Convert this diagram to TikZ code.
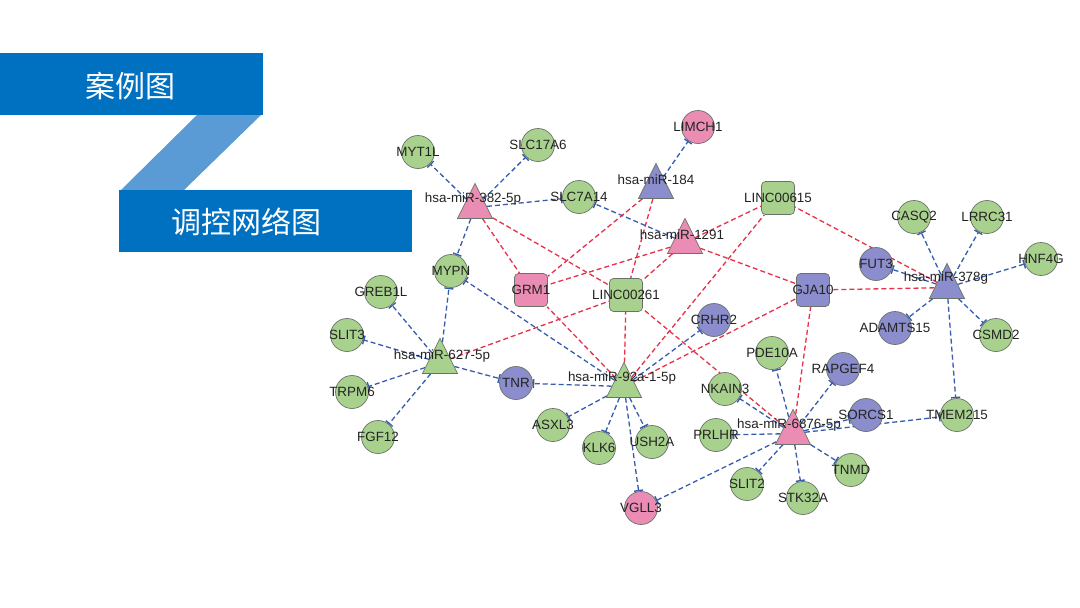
\documentclass[tikz,border=0pt]{standalone}
\usepackage{fontspec}
\setmainfont{Liberation Sans}
\newfontfamily\cjk{Noto Sans CJK SC}
\usetikzlibrary{shapes.geometric, arrows.meta, backgrounds}
\definecolor{hdblue}{RGB}{0,112,192}
\definecolor{hdlight}{RGB}{91,155,213}
\definecolor{gfill}{RGB}{169,209,142}
\definecolor{pfill}{RGB}{234,140,180}
\definecolor{bfill}{RGB}{139,141,204}
\definecolor{eblue}{RGB}{55,92,175}
\definecolor{ered}{RGB}{232,48,72}
\definecolor{nline}{RGB}{105,115,105}
\definecolor{labtext}{RGB}{35,35,35}
\newcommand\gnode[4]{\node[circ, fill=#4, label={[lab]center:#3}] (#1) at (#2) {};}
\begin{document}
\begin{tikzpicture}[x=1pt,y=-1pt,
 circ/.style={circle, draw=nline, line width=0.7pt, minimum size=33pt, inner sep=0pt},
 sq/.style={rectangle, rounded corners=4pt, draw=nline, line width=0.7pt, minimum size=33pt, inner sep=0pt},
 tri/.style={isosceles triangle, isosceles triangle stretches, shape border rotate=90, minimum width=35pt, minimum height=35pt, inner sep=0pt, draw=nline, line width=0.7pt, anchor=apex},
 lab/.style={font=\fontsize{13.4}{14}\selectfont, text=labtext, inner sep=0pt},
 inh/.style={draw=eblue, line width=1.3pt, dash pattern=on 5pt off 3pt, -{Bar[width=9pt, line width=1.4pt]}},
 cer/.style={draw=ered, line width=1.3pt, dash pattern=on 5pt off 3pt},
 hd/.style={font=\cjk\fontsize{30}{30}\selectfont, text=white, inner sep=0pt}
]
\useasboundingbox (0,0) rectangle (1080,608);
% header
\fill[hdblue] (0,53) rectangle (263,115);
\fill[hdlight] (197,115) -- (261,115) -- (184,190) -- (121,190) -- cycle;
\fill[hdblue] (119,190) rectangle (412,252);
\node[hd] (h1) at (130,86) {案例图};
\node[hd] (h2) at (246,222) {调控网络图};
% circle nodes
\gnode{MYT1L}{418,152}{MYT1L}{gfill}
\gnode{SLC17A6}{538,145}{SLC17A6}{gfill}
\gnode{SLC7A14}{579,197}{SLC7A14}{gfill}
\gnode{MYPN}{451,271}{MYPN}{gfill}
\gnode{GREB1L}{381,292}{GREB1L}{gfill}
\gnode{SLIT3}{347,335}{SLIT3}{gfill}
\gnode{TRPM6}{352,392}{TRPM6}{gfill}
\gnode{FGF12}{378,437}{FGF12}{gfill}
\gnode{TNR}{516,383}{TNR}{bfill}
\gnode{ASXL3}{553,425}{ASXL3}{gfill}
\gnode{KLK6}{599,448}{KLK6}{gfill}
\gnode{USH2A}{652,442}{USH2A}{gfill}
\gnode{VGLL3}{641,508}{VGLL3}{pfill}
\gnode{CRHR2}{714,320}{CRHR2}{bfill}
\gnode{NKAIN3}{725,389}{NKAIN3}{gfill}
\gnode{PRLHR}{716,435}{PRLHR}{gfill}
\gnode{PDE10A}{772,353}{PDE10A}{gfill}
\gnode{RAPGEF4}{843,369}{RAPGEF4}{bfill}
\gnode{SORCS1}{866,415}{SORCS1}{bfill}
\gnode{TMEM215}{957,415}{TMEM215}{gfill}
\gnode{TNMD}{851,470}{TNMD}{gfill}
\gnode{STK32A}{803,498}{STK32A}{gfill}
\gnode{SLIT2}{747,484}{SLIT2}{gfill}
\gnode{LIMCH1}{698,127}{LIMCH1}{pfill}
\gnode{CASQ2}{914,217}{CASQ2}{gfill}
\gnode{LRRC31}{987,217}{LRRC31}{gfill}
\gnode{HNF4G}{1041,259}{HNF4G}{gfill}
\gnode{FUT3}{876,264}{FUT3}{bfill}
\gnode{ADAMTS15}{895,328}{ADAMTS15}{bfill}
\gnode{CSMD2}{996,335}{CSMD2}{gfill}
% square nodes
\node[sq, fill=pfill, label={[lab]center:GRM1}] (GRM1) at (531,290) {};
\node[sq, fill=gfill, label={[lab]center:LINC00261}] (LINC00261) at (626,295) {};
\node[sq, fill=gfill, label={[lab]center:LINC00615}] (LINC00615) at (778,198) {};
\node[sq, fill=bfill, label={[lab]center:GJA10}] (GJA10) at (813,290) {};
% triangle nodes (placed by apex = centre - 17.5)
\node[tri, fill=pfill] (t382) at (475,182.5) {};
\node[tri, fill=bfill] (t184) at (656,162.5) {};
\node[tri, fill=pfill] (t1291) at (685,217.5) {};
\node[tri, fill=gfill] (t627) at (440,337.5) {};
\node[tri, fill=gfill] (t92a) at (624,361.5) {};
\node[tri, fill=pfill] (t6876) at (793,408.5) {};
\node[tri, fill=bfill] (t378) at (947,262.5) {};
\node[lab] (l382) at (473,199) {hsa-miR-382-5p};
\node[lab] (l184) at (656,180) {hsa-miR-184};
\node[lab] (l1291) at (682,235) {hsa-miR-1291};
\node[lab] (l627) at (442,356) {hsa-miR-627-5p};
\node[lab] (l92a) at (622,378) {hsa-miR-92a-1-5p};
\node[lab] (l6876) at (789,425) {hsa-miR-6876-5p};
\node[lab] (l378) at (946,278) {hsa-miR-378g};
\begin{pgfonlayer}{background}
\fill[white] (0,0) rectangle (1080,608);
% red ceRNA links
\draw[cer] (t382) -- (GRM1);
\draw[cer] (t382) -- (LINC00261);
\draw[cer] (t184) -- (GRM1);
\draw[cer] (t184) -- (LINC00261);
\draw[cer] (t1291) -- (GRM1);
\draw[cer] (t1291) -- (LINC00261);
\draw[cer] (t1291) -- (LINC00615);
\draw[cer] (t1291) -- (GJA10);
\draw[cer] (t627) -- (LINC00261);
\draw[cer] (t92a) -- (GRM1);
\draw[cer] (t92a) -- (LINC00261);
\draw[cer] (t92a) -- (LINC00615);
\draw[cer] (t92a) -- (GJA10);
\draw[cer] (t6876) -- (LINC00261);
\draw[cer] (t6876) -- (GJA10);
\draw[cer] (t378) -- (LINC00615);
\draw[cer] (t378) -- (GJA10);
% blue inhibition links
\foreach \t in {MYT1L,SLC17A6,SLC7A14,MYPN} \draw[inh] (t382) -- (\t);
\draw[inh] (t184) -- (LIMCH1);
\draw[inh] (t1291) -- (SLC7A14);
\foreach \t in {MYPN,GREB1L,SLIT3,TRPM6,FGF12,TNR} \draw[inh] (t627) -- (\t);
\foreach \t in {MYPN,TNR,ASXL3,KLK6,USH2A,VGLL3,CRHR2} \draw[inh] (t92a) -- (\t);
\foreach \t in {PDE10A,RAPGEF4,SORCS1,TMEM215,TNMD,STK32A,SLIT2,PRLHR,NKAIN3,VGLL3} \draw[inh] (t6876) -- (\t);
\foreach \t in {CASQ2,LRRC31,HNF4G,FUT3,ADAMTS15,CSMD2,TMEM215} \draw[inh] (t378) -- (\t);
\end{pgfonlayer}
\end{tikzpicture}
\end{document}
